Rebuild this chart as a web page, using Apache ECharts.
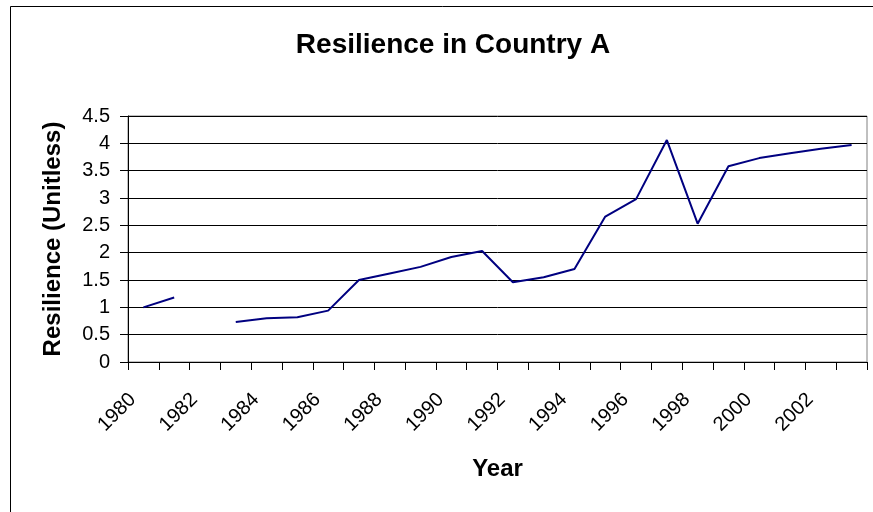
<!DOCTYPE html>
<html>
<head>
<meta charset="utf-8">
<script src="https://cdn.jsdelivr.net/npm/echarts@6/dist/echarts.min.js"></script>
<style>
html,body{margin:0;padding:0;background:#fff;}
#chart{width:873px;height:512px;}
</style>
</head>
<body>
<div id="chart"></div>
<script>
const years = ['1980','1981','1982','1983','1984','1985','1986','1987','1988','1989','1990','1991','1992','1993','1994','1995','1996','1997','1998','1999','2000','2001','2002','2003'];
const resilience = [1.00, 1.18, null, 0.73, 0.80, 0.82, 0.94, 1.50, 1.62, 1.74, 1.92, 2.03, 1.46, 1.55, 1.70, 2.66, 2.98, 4.06, 2.53, 3.58, 3.73, 3.82, 3.90, 3.97];
const titleText = 'Resilience in Country A';
const xName = 'Year';
const yName = 'Resilience (Unitless)';
const yMin = 0, yMax = 4.5, yStep = 0.5;

const chart = echarts.init(document.getElementById('chart'), null, {renderer: 'canvas'});
const font = 'Liberation Sans, Arial, sans-serif';
chart.setOption({
  animation: false,
  backgroundColor: '#fff',
  graphic: [{
    type: 'rect', silent: true, z: -1,
    shape: {x: 10.5, y: 6.5, width: 1000, height: 1000},
    style: {fill: 'none', stroke: '#000', lineWidth: 1}
  }],
  title: {
    text: titleText,
    left: 448, top: 26, textAlign: 'center',
    textStyle: {fontFamily: font, fontSize: 28, fontWeight: 'bold', color: '#000'}
  },
  grid: {left: 128, right: 6, top: 116, bottom: 150, show: true, borderColor: '#808080', borderWidth: 1, outerBoundsMode: 'none'},
  xAxis: {
    type: 'category', data: years, boundaryGap: true,
    name: xName, nameLocation: 'middle', nameGap: 95,
    nameTextStyle: {fontFamily: font, fontSize: 24, fontWeight: 'bold', color: '#000'},
    axisLine: {lineStyle: {color: '#000', width: 1}},
    axisTick: {show: true, interval: 0, length: 8, lineStyle: {color: '#000'}},
    axisLabel: {interval: 1, rotate: 45, margin: 24, padding: [0, 15, 0, 0], fontFamily: font, fontSize: 20, color: '#000'},
    splitLine: {show: false}
  },
  yAxis: {
    type: 'value', min: yMin, max: yMax, interval: yStep,
    name: yName, nameLocation: 'middle', nameRotate: 90, nameGap: 63,
    nameTextStyle: {fontFamily: font, fontSize: 24, fontWeight: 'bold', color: '#000'},
    axisLine: {show: true, lineStyle: {color: '#000', width: 1}},
    axisTick: {show: true, length: 8, lineStyle: {color: '#000'}},
    axisLabel: {margin: 18, fontFamily: font, fontSize: 20, color: '#000'},
    splitLine: {show: true, lineStyle: {color: '#000', width: 1}}
  },
  series: [{
    type: 'line', data: resilience, showSymbol: false, symbol: 'none',
    connectNulls: false,
    lineStyle: {color: '#000080', width: 2},
    itemStyle: {color: '#000080'}
  }]
});
</script>
</body>
</html>
